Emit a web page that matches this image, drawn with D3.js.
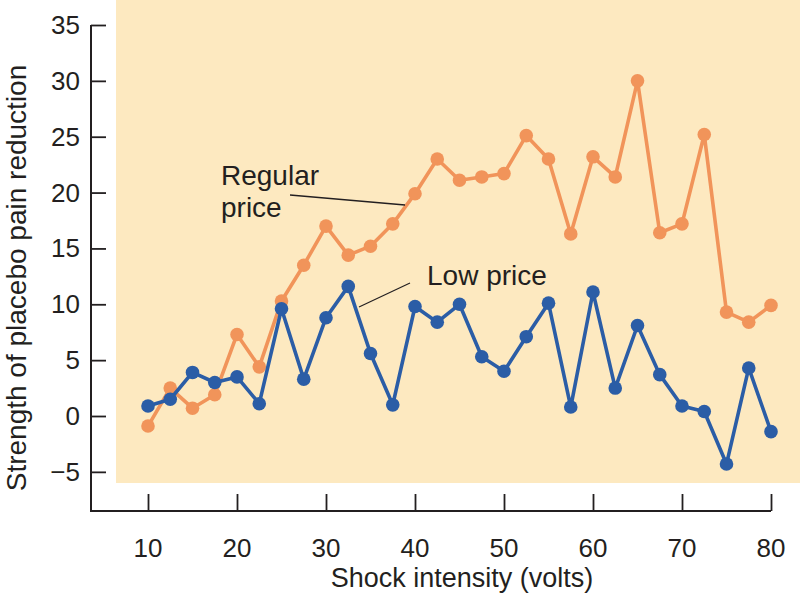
<!DOCTYPE html>
<html><head><meta charset="utf-8">
<script src="https://cdn.jsdelivr.net/npm/d3@7"></script>
<style>body{margin:0;background:#fff}svg{display:block}text{font-family:"Liberation Sans",Arial,sans-serif;fill:#231f20}</style>
</head><body><svg id="c" width="800" height="595"></svg>
<script>
const voltages = [10,12.5,15,17.5,20,22.5,25,27.5,30,32.5,35,37.5,40,42.5,45,47.5,50,52.5,55,57.5,60,62.5,65,67.5,70,72.5,75,77.5,80];
const regularPrice = [-0.9,2.5,0.7,1.9,7.3,4.4,10.3,13.5,17.0,14.4,15.2,17.2,19.9,23.0,21.1,21.4,21.7,25.1,23.0,16.3,23.2,21.4,30.0,16.4,17.2,25.2,9.3,8.4,9.9];
const lowPrice = [0.9,1.5,3.9,3.0,3.5,1.1,9.6,3.3,8.8,11.6,5.6,1.0,9.8,8.4,10.0,5.3,4.0,7.1,10.1,0.8,11.1,2.5,8.1,3.7,0.9,0.4,-4.3,4.3,-1.4];
const xTicks = [10,20,30,40,50,60,70,80];
const yTicks = [-5,0,5,10,15,20,25,30,35];

const svg = d3.select("#c");
const x = d3.scaleLinear().domain([10,80]).range([148,771]);
const y = d3.scaleLinear().domain([0,35]).range([416,25]);

// background panel
svg.append("rect").attr("x",116).attr("y",0).attr("width",684).attr("height",y(-6)).attr("fill","#fde9c0");

// axes
const axisCol = "#231f20";
const yAx = svg.append("g").attr("transform","translate(91,0)")
  .call(d3.axisRight(y).tickValues(yTicks).tickSize(15).tickFormat(""));
yAx.select(".domain").remove();
const xAx = svg.append("g").attr("transform","translate(0,511)")
  .call(d3.axisTop(x).tickValues(xTicks).tickSize(17).tickFormat(""));
xAx.select(".domain").remove();
svg.selectAll(".tick line").attr("stroke",axisCol).attr("stroke-width",1.8);
svg.append("path").attr("d",`M91,${y(35)}V511H${x(80)}`).attr("fill","none").attr("stroke",axisCol).attr("stroke-width",2);

// tick labels
svg.append("g").selectAll("text").data(yTicks).join("text")
  .attr("x",80).attr("y",d=>y(d)+9).attr("text-anchor","end").attr("font-size",26)
  .text(d=>d<0?"\u2212"+Math.abs(d):d);
svg.append("g").selectAll("text").data(xTicks).join("text")
  .attr("x",d=>x(d)).attr("y",557).attr("text-anchor","middle").attr("font-size",26).text(d=>d);

// axis titles
svg.append("text").attr("x",462).attr("y",587).attr("text-anchor","middle").attr("font-size",27).text("Shock intensity (volts)");
svg.append("text").attr("transform","translate(26,278) rotate(-90)").attr("text-anchor","middle").attr("font-size",28).text("Strength of placebo pain reduction");

// series
const series = [
  {vals: regularPrice, color: "#f1945a"},
  {vals: lowPrice, color: "#2b5da6"}
];
const line = d3.line().x((d,i)=>x(voltages[i])).y(d=>y(d));
series.forEach(s=>{
  const g = svg.append("g");
  g.append("path").datum(s.vals).attr("d",line).attr("fill","none").attr("stroke",s.color).attr("stroke-width",3.6).attr("stroke-linejoin","round");
  g.selectAll("circle").data(s.vals).join("circle")
    .attr("cx",(d,i)=>x(voltages[i])).attr("cy",d=>y(d)).attr("r",6.8).attr("fill",s.color);
});

// annotations
svg.append("text").attr("x",221).attr("y",185).attr("font-size",28).text("Regular");
svg.append("text").attr("x",221).attr("y",217).attr("font-size",28).text("price");
svg.append("line").attr("x1",290).attr("y1",195).attr("x2",405).attr("y2",205).attr("stroke","#231f20").attr("stroke-width",1.3);
svg.append("text").attr("x",427).attr("y",285).attr("font-size",28).text("Low price");
svg.append("line").attr("x1",410).attr("y1",283).attr("x2",359).attr("y2",307).attr("stroke","#231f20").attr("stroke-width",1.3);
</script></body></html>
